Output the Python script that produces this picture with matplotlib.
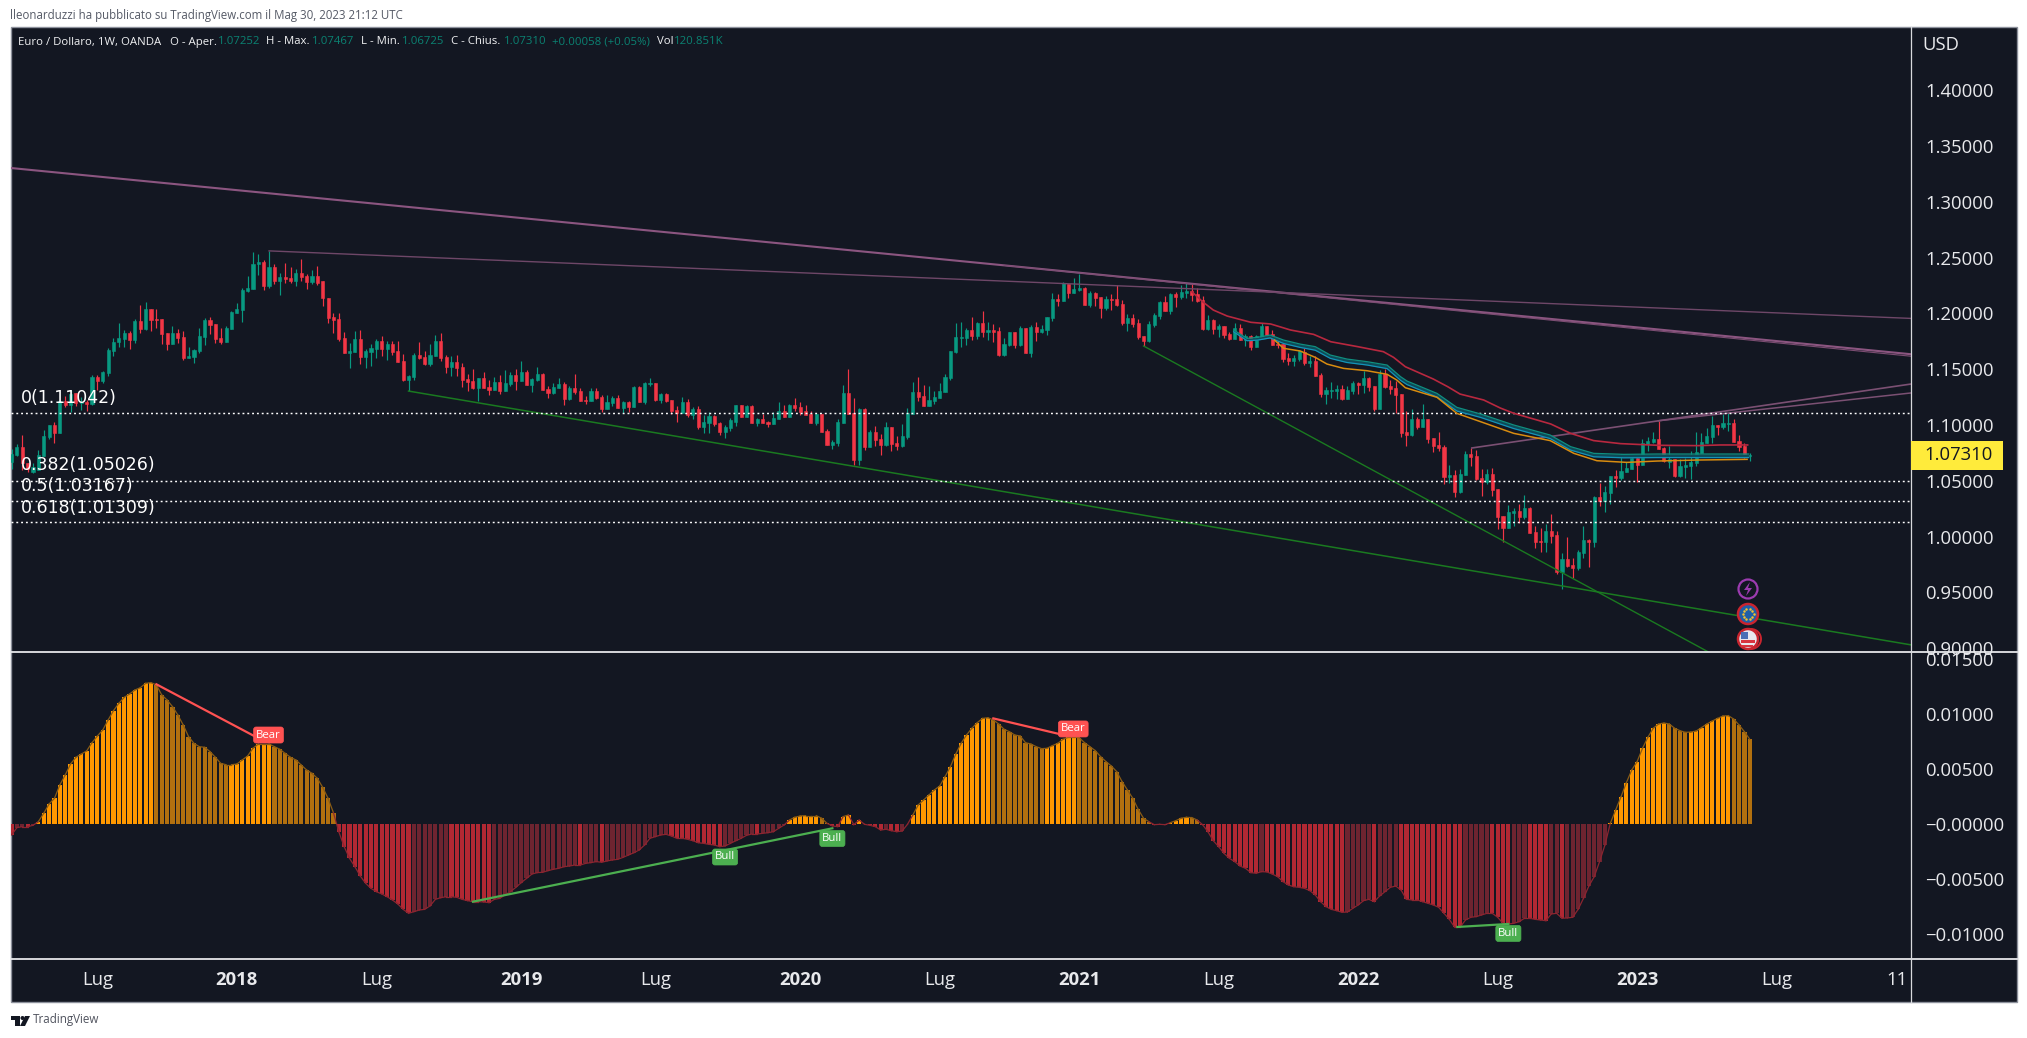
"""
EUR/USD weekly chart with oscillator pane, TradingView dark style.
Prices in 1/10000, oscillator in 1/100000, read off the screenshot.
"""
import numpy as np
import matplotlib
matplotlib.use("Agg")
import matplotlib.pyplot as plt
from matplotlib.patches import Rectangle, Circle, Polygon

opens = [
    10670,10730,10805,10655,10580,10601,10721,10889,11000,10931,
    11216,11180,11285,11195,11210,11189,11432,11393,11468,11666,
    11744,11774,11822,11762,11936,11861,12039,11951,11948,11822,
    11729,11825,11786,11603,11612,11663,11792,11942,11906,11777,
    11747,11861,12006,12030,12204,12222,12438,12462,12249,12414,
    12291,12324,12318,12291,12360,12336,12284,12335,12290,12141,
    11970,11946,11780,11648,11654,11771,11612,11654,11681,11753,
    11681,11726,11663,11573,11403,11430,11627,11609,11546,11618,
    11753,11609,11520,11564,11520,11412,11394,11331,11421,11340,
    11313,11385,11304,11367,11448,11394,11475,11358,11403,11457,
    11322,11286,11331,11367,11233,11331,11304,11224,11215,11304,
    11251,11143,11197,11242,11152,11206,11161,11341,11206,11368,
    11376,11224,11278,11224,11134,11107,11206,11089,11143,10982,
    11018,11081,11018,10937,10973,11027,11179,11072,11170,11018,
    11054,11027,11009,11054,11125,11072,11179,11161,11125,11098,
    11018,11098,10946,10820,10838,11018,11287,11107,10685,11143,
    10802,10937,10874,10820,10982,10838,10811,10892,11102,11297,
    11261,11171,11216,11243,11297,11420,11654,11780,11780,11852,
    11798,11915,11834,11852,11843,11627,11717,11834,11717,11870,
    11645,11879,11834,11852,11960,12129,12111,12264,12183,12210,
    12228,12075,12183,12147,12048,12129,12129,12084,11915,11960,
    11915,11798,11753,11897,11978,12102,12021,12174,12147,12183,
    12201,12174,12120,11861,11942,11861,11888,11816,11771,11870,
    11762,11798,11699,11789,11888,11816,11726,11726,11600,11573,
    11591,11655,11556,11574,11448,11277,11304,11304,11322,11232,
    11304,11376,11358,11421,11349,11142,11457,11349,11331,11277,
    10938,10911,11055,10983,11055,10884,10821,10803,10533,10551,
    10398,10551,10740,10722,10524,10488,10560,10425,10185,10077,
    10212,10230,10176,10257,10041,9960,9951,10050,10014,9683,
    9798,9744,9719,9852,9969,9951,10353,10317,10389,10542,
    10524,10578,10605,10704,10641,10830,10848,10875,10794,10668,
    10695,10542,10623,10632,10659,10749,10839,10893,11000,10982,
    11009,11018,10857,10812,10725,
]
closes = [
    10739,10802,10655,10610,10625,10730,10901,11000,10928,11216,
    11180,11279,11195,11210,11189,11432,11393,11477,11672,11747,
    11777,11822,11762,11936,11861,12039,11945,11945,11819,11729,
    11822,11783,11603,11615,11672,11798,11945,11897,11774,11744,
    11867,12012,12039,12210,12228,12444,12462,12249,12414,12288,
    12324,12309,12291,12360,12330,12285,12335,12275,12135,11955,
    11940,11770,11648,11663,11771,11609,11663,11690,11753,11681,
    11726,11654,11564,11403,11439,11627,11600,11544,11627,11753,
    11600,11520,11564,11511,11403,11385,11331,11421,11331,11313,
    11385,11304,11376,11448,11394,11475,11358,11412,11457,11313,
    11286,11340,11367,11233,11331,11295,11215,11215,11304,11242,
    11143,11206,11242,11152,11206,11161,11341,11206,11376,11376,
    11224,11278,11215,11125,11107,11206,11089,11143,10982,11027,
    11081,11009,10937,10982,11045,11179,11072,11170,11018,11054,
    11018,11009,11063,11125,11072,11179,11152,11116,11089,11018,
    11098,10937,10820,10847,11027,11287,11098,10685,11143,10802,
    10937,10865,10820,10982,10829,10811,10901,11105,11297,11252,
    11171,11225,11252,11306,11429,11663,11789,11789,11852,11798,
    11915,11834,11852,11834,11627,11726,11834,11717,11870,11645,
    11879,11834,11861,11969,12129,12111,12273,12183,12219,12228,
    12075,12183,12138,12048,12129,12120,12075,11915,11960,11906,
    11789,11753,11906,11987,12102,12021,12174,12147,12192,12201,
    12165,12111,11861,11942,11861,11888,11807,11771,11870,11762,
    11798,11699,11798,11888,11807,11717,11717,11591,11573,11600,
    11663,11556,11574,11439,11277,11313,11313,11322,11232,11313,
    11376,11358,11421,11340,11142,11457,11340,11322,11268,10929,
    10911,11055,10983,11055,10875,10812,10794,10533,10551,10398,
    10560,10740,10713,10515,10488,10560,10416,10176,10077,10221,
    10230,10176,10257,10032,9951,9951,10050,10005,9683,9798,
    9735,9719,9861,9969,9951,10353,10317,10398,10542,10524,
    10587,10614,10704,10641,10839,10857,10875,10785,10677,10695,
    10542,10632,10641,10668,10758,10848,10902,11000,10982,11018,
    11018,10848,10803,10722,10731,
]
highs = [
    10781,10829,10907,10655,10655,10775,10955,11000,11027,11216,
    11264,11315,11285,11255,11225,11447,11447,11486,11687,11777,
    11912,11852,11843,11948,12075,12102,12039,12039,11948,11822,
    11888,11858,11843,11696,11681,11867,11957,11966,11906,11867,
    11888,12024,12090,12225,12336,12549,12534,12480,12560,12444,
    12360,12450,12420,12396,12486,12354,12388,12424,12290,12141,
    12000,12000,11834,11732,11843,11852,11681,11726,11771,11798,
    11753,11753,11753,11636,11448,11645,11744,11663,11726,11807,
    11825,11627,11618,11627,11555,11457,11502,11421,11475,11403,
    11430,11448,11493,11475,11502,11572,11493,11421,11520,11466,
    11349,11376,11421,11385,11349,11457,11331,11259,11331,11331,
    11269,11269,11260,11269,11215,11215,11350,11350,11385,11421,
    11376,11287,11287,11224,11170,11251,11233,11161,11170,11089,
    11116,11090,11027,11000,11063,11179,11179,11179,11179,11063,
    11098,11036,11116,11206,11179,11188,11242,11206,11179,11125,
    11098,11098,10964,10865,11054,11359,11502,11242,11152,11152,
    10955,10991,10919,11027,10982,10901,11009,11153,11384,11429,
    11360,11351,11306,11375,11456,11663,11915,11924,11870,11969,
    11924,12021,11924,11906,11879,11780,11834,11834,11888,11870,
    11897,11924,11897,11969,12183,12174,12282,12264,12318,12354,
    12237,12201,12192,12147,12156,12174,12255,12120,11996,11996,
    11951,11798,11933,12003,12111,12156,12183,12192,12255,12273,
    12273,12228,12156,11985,11951,11906,11888,11834,11915,11906,
    11816,11807,11807,11915,11888,11852,11762,11726,11645,11627,
    11672,11691,11619,11619,11466,11340,11385,11358,11358,11349,
    11394,11385,11484,11430,11349,11493,11502,11403,11394,11277,
    11124,11142,11073,11187,11055,10884,10938,10821,10641,10596,
    10605,10767,10794,10776,10605,10605,10614,10425,10185,10284,
    10257,10293,10371,10266,10095,10077,10113,10203,10050,9852,
    9996,9807,9879,10095,9978,10362,10479,10452,10542,10596,
    10740,10668,10713,10713,10875,10893,10937,11036,10803,10812,
    10695,10695,10704,10767,10937,10928,10973,11081,11000,11099,
    11108,11054,10911,10839,10747,
]
lows = [
    10610,10721,10595,10580,10571,10601,10721,10874,10841,10931,
    11165,11120,11171,11135,11126,11180,11315,11378,11438,11618,
    11702,11696,11678,11738,11828,11852,11843,11867,11726,11672,
    11729,11732,11582,11603,11558,11642,11717,11816,11738,11723,
    11747,11858,12006,11927,12195,12222,12345,12210,12225,12261,
    12165,12270,12270,12246,12291,12222,12263,12254,12066,11917,
    11827,11752,11648,11514,11654,11547,11514,11532,11600,11618,
    11582,11627,11564,11394,11304,11403,11591,11538,11529,11618,
    11573,11466,11439,11439,11340,11304,11322,11215,11331,11268,
    11313,11277,11304,11349,11313,11394,11358,11295,11394,11313,
    11241,11277,11331,11179,11224,11277,11215,11188,11215,11233,
    11116,11143,11170,11152,11107,11116,11161,11206,11188,11350,
    11215,11197,11206,11098,11027,11107,11072,11054,10964,10928,
    10928,10991,10910,10883,10946,10991,11072,11072,11018,10991,
    11018,10982,11009,11054,11072,11072,11125,11089,11089,11018,
    11000,10937,10820,10784,10811,11018,11098,10640,10640,10775,
    10802,10811,10730,10811,10766,10775,10805,10874,11102,11216,
    11171,11171,11189,11243,11297,11402,11645,11699,11717,11762,
    11771,11789,11762,11744,11618,11618,11708,11690,11708,11645,
    11609,11753,11825,11807,11933,12066,12111,12138,12183,12201,
    12075,12057,12066,11960,12030,12030,12066,11897,11843,11879,
    11771,11708,11744,11879,11951,12021,11996,12057,12129,12138,
    12111,12102,11852,11852,11816,11789,11780,11762,11771,11762,
    11708,11672,11699,11780,11798,11717,11690,11564,11537,11528,
    11573,11538,11520,11439,11250,11187,11241,11232,11223,11232,
    11277,11277,11286,11304,11124,11142,11331,11277,11106,10893,
    10812,10902,10965,10983,10839,10758,10767,10470,10479,10353,
    10389,10551,10632,10506,10362,10470,10362,10068,9951,10077,
    10095,10122,10158,10032,9897,9861,9861,9942,9665,9530,
    9726,9629,9701,9807,9726,9906,10275,10221,10290,10443,
    10506,10578,10605,10488,10641,10767,10839,10785,10668,10614,
    10533,10533,10524,10515,10632,10749,10839,10839,10910,10964,
    10946,10848,10767,10704,10673,
]
osc = [
    -100,-33,-24,-24,-12,21,97,182,233,355,445,545,606,636,664,739,800,854,945,1030,
    1097,1151,1182,1218,1239,1279,1285,1264,1173,1127,1067,991,900,794,733,703,697,658,606,551,
    539,539,545,582,618,688,727,727,727,703,679,642,606,582,536,491,461,415,333,233,
    103,-70,-206,-312,-388,-473,-539,-585,-615,-636,-661,-691,-727,-776,-812,-797,-782,-776,-745,-685,
    -670,-661,-661,-667,-685,-697,-706,-706,-709,-715,-685,-676,-645,-615,-576,-533,-494,-455,-442,-439,
    -424,-412,-403,-388,-382,-373,-373,-358,-351,-342,-348,-336,-327,-321,-303,-282,-261,-236,-191,-130,
    -115,-100,-94,-109,-130,-130,-139,-152,-170,-176,-185,-191,-206,-200,-176,-152,-130,-103,-91,-91,
    -85,-79,-70,-39,-9,36,61,73,76,76,76,52,6,-18,-24,67,82,-6,36,-3,
    -12,-24,-55,-48,-61,-70,-64,-3,82,173,218,264,309,345,430,521,636,733,809,870,
    921,960,966,946,909,861,839,809,800,739,727,703,685,688,712,733,770,788,788,785,
    739,703,667,612,567,527,476,385,309,233,133,52,21,-6,-3,-6,12,30,52,61,
    58,36,-6,-70,-152,-206,-267,-312,-342,-382,-403,-442,-448,-433,-436,-455,-479,-524,-555,-570,
    -576,-585,-606,-645,-706,-751,-776,-788,-803,-800,-767,-736,-697,-685,-706,-655,-615,-576,-564,-600,
    -685,-691,-691,-706,-721,-736,-757,-812,-867,-939,-939,-873,-848,-842,-827,-812,-812,-848,-903,-909,
    -903,-888,-857,-857,-867,-873,-879,-818,-812,-857,-854,-848,-776,-676,-564,-479,-342,-191,6,127,
    248,376,491,567,688,788,870,909,918,909,870,848,833,836,845,876,909,936,960,982,
    985,954,900,839,770,
]

# moving averages, bar number and price (1/10000)
red_ma_x = [220,222,224,226.6,231,234.7,238.4,242.7,245.9,250.9,255.7,257.6,259.8,265,267.7,270,274.4,277.5,
            280,286.9,290.6,294.9,299.9,306.8,314.3,318.5,323.6]
red_ma = [12194,12105,12030,11976,11920,11905,11851,11812,11746,11702,11657,11606,11522,11412,11343,11277,11224,11152,
          11105,11009,10925,10860,10833,10818,10815,10821,10821]
ribbon_x = [227.8,230.3,232.2,234.6,237.1,240.2,243,245.8,248.9,252.7,256.4,258.9,260.1,265.7,269.4,
            273.8,280,286.8,290.6,294.9,300.5,306.7,314.2,323.8]
ribbon_top = [11851,11776,11785,11806,11761,11725,11702,11627,11591,11567,11537,11433,11394,11283,11158,
              11099,11000,10910,10806,10746,10737,10740,10740,10740]
ribbon_bot = [11835,11755,11760,11780,11730,11695,11670,11597,11560,11537,11505,11400,11362,11250,11125,
              11068,10968,10878,10775,10715,10706,10708,10708,10708]
orange_x = [235.4,237.1,240.2,243,245.2,248.3,252.7,256.4,258.2,259.8,265.7,269.4,
            273.8,280,286.8,291.2,295.5,301.1,306.7,314.2,323.5]
orange_ma = [11761,11687,11663,11606,11546,11507,11486,11454,11403,11334,11248,11104,
             11030,10925,10860,10746,10680,10665,10677,10686,10692]

fib_levels = [1.11042, 1.05026, 1.03167, 1.01309]
fib_labels = ["0(1.11042)", "0.382(1.05026)", "0.5(1.03167)", "0.618(1.01309)"]
fib_label_prices = [1.1240, 1.0638, 1.0452, 1.0256]

price_ticks = [0.90, 0.95, 1.00, 1.05, 1.10, 1.15, 1.20, 1.25, 1.30, 1.35, 1.40]
osc_ticks = [0.015, 0.010, 0.005, 0.0, -0.005, -0.010]
osc_tick_labels = ["0.01500", "0.01000", "0.00500", "\u22120.00000", "\u22120.00500", "\u22120.01000"]
time_ticks = [16, 42, 68, 95, 120, 147, 173, 199, 225, 251, 277, 303, 329, 351.5]
time_labels = ["Lug", "2018", "Lug", "2019", "Lug", "2020", "Lug", "2021", "Lug", "2022", "Lug", "2023", "Lug", "11"]

BG = "#131722"
GREEN = "#089981"
RED = "#F23645"
W, H = 2027, 1038
FONT = "Open Sans"

plt.rcParams["font.family"] = [FONT, "DejaVu Sans"]


def box(x0, y0, x1, y1):
    # pixel box (from top left) to figure fractions
    return [x0 / W, 1 - y1 / H, (x1 - x0) / W, (y1 - y0) / H]


def ftext(x, y, s, **kw):
    return fig.text(x / W, 1 - y / H, s, **kw)


fig = plt.figure(figsize=(W / 100, H / 100), dpi=100, facecolor="white")
fig.patches.append(Rectangle((10.5 / W, 1 - 1002 / H), 2006.5 / W, 975 / H, transform=fig.transFigure,
                             facecolor=BG, edgecolor="#8d919c", lw=1, zorder=-5))

ax = fig.add_axes(box(11, 27, 1911, 652), facecolor="none")
ax2 = fig.add_axes(box(11, 652, 1911, 959), facecolor="none", sharex=ax)

x = np.arange(len(closes))
o, c, hi, lo = [np.array(a) / 1e4 for a in (opens, closes, highs, lows)]
up = c >= o
colors = np.where(up, GREEN, RED)

ax.vlines(x, lo, hi, colors=colors, lw=0.85, zorder=2)
ax.bar(x, np.abs(c - o), bottom=np.minimum(o, c), width=0.58, color=colors, edgecolor=colors, lw=0.4, zorder=2)

# trend lines
ax.plot([-0.2, 354.05], [1.3303, 1.1634], color="#8b5580", lw=1.5, zorder=3)
ax.plot([185, 354.05], [1.2430, 1.1616], color="#7b4d72", lw=0.8, zorder=3)
ax.plot([48, 354.05], [1.2560, 1.1955], color="#6e4768", lw=1.0, zorder=3)
ax.plot([272.2, 354.05], [1.0794, 1.1367], color="#7b5073", lw=1.2, zorder=3)
ax.plot([307, 354.05], [1.1038, 1.1287], color="#7b5073", lw=1.1, zorder=3)
ax.plot([74, 354.05], [1.1304, 0.9030], color="#1a7a20", lw=1.1, zorder=3)
ax.plot([211, 316.3], [1.1708, 0.8966], color="#1a7a20", lw=1.0, zorder=3)

# fib levels
for lev in fib_levels:
    ax.axhline(lev, color="white", lw=1.05, ls=(0, (1.3, 2.0)), zorder=3)

# moving averages
rx = np.array(ribbon_x)
rt = np.array(ribbon_top) / 1e4
rb = np.array(ribbon_bot) / 1e4
ax.fill_between(rx, rb, rt, color="#0d4a58", lw=0, zorder=3)
ax.plot(rx, rt, color="#0f8f80", lw=0.9, zorder=4)
ax.plot(rx, rb, color="#1493b8", lw=0.9, zorder=4)
ax.plot(orange_x, np.array(orange_ma) / 1e4, color="#d88c10", lw=1.1, zorder=4)
ax.plot(red_ma_x, np.array(red_ma) / 1e4, color="#b8283f", lw=1.2, zorder=4)

for lab, lp in zip(fib_labels, fib_label_prices):
    ax.text(1.7, lp, lab, color="white", fontsize=12.5, family="DejaVu Sans", va="center", ha="left", zorder=6)

ax.set_xlim(-0.1, 354.05)
ax.set_ylim(0.8966, 1.4566)
ax.set_yticks(price_ticks)
ax.set_yticklabels(["%.5f" % t for t in price_ticks])

# oscillator
vals = np.array(osc) / 1e5
prev = np.r_[vals[0], vals[:-1]]
bar_cols = []
for v, p in zip(vals, prev):
    if v >= 0:
        bar_cols.append("#FF9800" if v >= p else "#B2700F")
    else:
        bar_cols.append("#B22833" if v <= p else "#6E2430")
ax2.bar(x, vals, width=0.78, color=bar_cols, lw=0, zorder=2)
for i in range(len(x) - 1):
    seg_col = "#8a5c14" if vals[i] >= 0 and vals[i + 1] >= 0 else "#8c2530"
    ax2.plot(x[i:i + 2], vals[i:i + 2], color=seg_col, lw=0.9, zorder=3)

ax2.plot([27, 46], [0.0127, 0.0078], color="#FF5252", lw=1.6, zorder=4)
ax2.plot([183, 195.3], [0.0096, 0.00818], color="#FF5252", lw=1.6, zorder=4)
ax2.plot([86, 153], [-0.00706, -0.00039], color="#4CAF50", lw=1.6, zorder=4)
ax2.plot([269.5, 279], [-0.00936, -0.00909], color="#4CAF50", lw=1.6, zorder=4)
for px, val, lab, col in [(47.9, 0.00809, "Bear", "#FF5252"), (197.9, 0.00864, "Bear", "#FF5252"),
                          (133, -0.0030, "Bull", "#4CAF50"), (153, -0.00132, "Bull", "#4CAF50"),
                          (279, -0.00995, "Bull", "#4CAF50")]:
    ax2.text(px, val, lab, color="white", fontsize=8.2, ha="center", va="center", zorder=5,
             bbox=dict(boxstyle="round,pad=0.22", fc=col, ec=col, lw=0.5))

ax2.set_ylim(-0.012273, 0.015636)
ax2.set_yticks(osc_ticks)
ax2.set_yticklabels(osc_tick_labels)
ax2.set_xticks(time_ticks)
ax2.set_xticklabels(time_labels)

for a in (ax, ax2):
    a.yaxis.tick_right()
    a.tick_params(axis="y", length=0, pad=10.3, labelsize=13.3, labelcolor="#e8e9ec")
    for s in a.spines.values():
        s.set_visible(False)
ax.tick_params(axis="x", length=0, labelbottom=False)
ax2.tick_params(axis="x", length=0, pad=8.5, labelsize=13.3, labelcolor="#e8e9ec")
for t, lab in zip(ax2.get_xticklabels(), time_labels):
    if lab.startswith("20"):
        t.set_fontweight("bold")

# pane separators and axis line
for yy in (652, 959):
    fig.add_artist(plt.Line2D([11 / W, 2016.5 / W], [1 - yy / H] * 2, color="#e6e7ea", lw=1.3, zorder=10))
fig.add_artist(plt.Line2D([1911 / W] * 2, [1 - 27 / H, 1 - 1002 / H], color="#d8d9dd", lw=0.9, zorder=10))

# last price tag
fig.patches.append(Rectangle((1911 / W, 1 - 470 / H), 92 / W, 29 / H, transform=fig.transFigure,
                             facecolor="#FFEB3B", edgecolor="none", zorder=11))
ftext(1959, 455, "1.07310", color="#131722", fontsize=13.3, ha="center", va="center", zorder=12)
ftext(1922, 45, "USD", color="#e8e9ec", fontsize=13.3, va="center", zorder=12)

# header texts
ftext(10, 15, "lleonarduzzi ha pubblicato su TradingView.com il Mag 30, 2023 21:12 UTC",
      color="#555a66", fontsize=8.3, va="center")
TXT = "#f0f1f3"
VAL = "#0b8272"
for xp, s, col in [(18, "Euro / Dollaro, 1W, OANDA", TXT), (170, "O - Aper.", TXT), (218, "1.07252", VAL),
                   (266, "H - Max.", TXT), (312, "1.07467", VAL), (361, "L - Min.", TXT), (402, "1.06725", VAL),
                   (451, "C - Chius.", TXT), (504, "1.07310", VAL), (552, "+0.00058 (+0.05%)", VAL),
                   (657, "Vol", TXT), (674, "120.851K", VAL)]:
    ftext(xp, 42, s, color=col, fontsize=8.2, va="center", zorder=12)

# event icons, drawn in pixel space on an overlay
ov = fig.add_axes([0, 0, 1, 1], facecolor="none", zorder=20)
ov.set_xlim(0, W)
ov.set_ylim(H, 0)
ov.axis("off")
ov.add_patch(Circle((1748, 589), 9.5, fc=BG, ec="#9c3bb0", lw=1.6))
ov.add_patch(Polygon([(1750, 582), (1744, 590), (1748, 590), (1746, 596), (1752, 588), (1748, 588)], fc="#9c3bb0", ec="none"))
ov.add_patch(Circle((1748, 614), 10, fc="#1f5fa8", ec="#c9252f", lw=1.8))
for a in np.arange(0, 360, 36):
    ov.plot(1748 + 5.5 * np.cos(np.radians(a)), 614 + 5.5 * np.sin(np.radians(a)), ".", ms=1.6, color="#f2c230")
ov.add_patch(Circle((1751, 639), 10, fc=BG, ec="#c9252f", lw=1.4))
ov.add_patch(Circle((1748, 639), 10, fc="#e8e8ee", ec="#c9252f", lw=1.8))
ov.add_patch(Rectangle((1741, 640), 14, 2.5, fc="#d8343f", ec="none"))
ov.add_patch(Rectangle((1741, 645), 12, 2, fc="#d8343f", ec="none"))
ov.add_patch(Rectangle((1741, 632), 7, 7, fc="#4a6fb5", ec="none"))

# footer logo and wordmark
ov.add_patch(Polygon([(11, 1016), (20, 1016), (20, 1026), (15, 1026), (15, 1020), (11, 1020)], fc="#131722", ec="none"))
ov.add_patch(Circle((22.5, 1018), 2, fc="#131722", ec="none"))
ov.add_patch(Polygon([(25, 1016), (30, 1016), (25, 1026), (20, 1026)], fc="#131722", ec="none"))
ftext(33, 1020, "TradingView", color="#50535e", fontsize=8.4, va="center", zorder=25)

fig.savefig("out.png", dpi=100, facecolor="white")
